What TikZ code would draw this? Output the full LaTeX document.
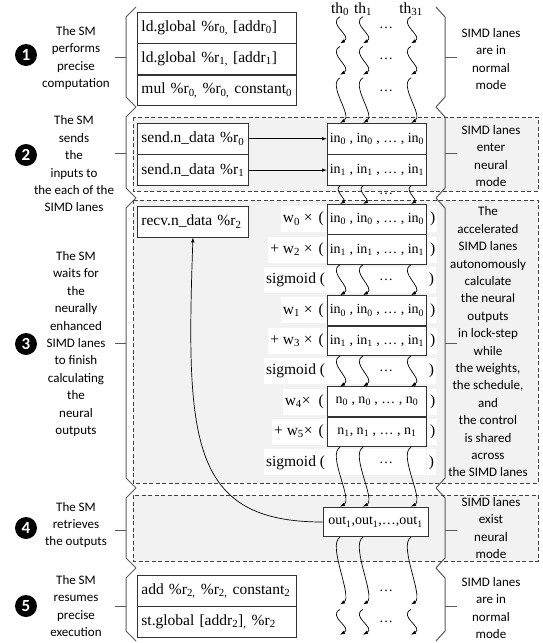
\documentclass[tikz,border=0pt]{standalone}
\usepackage{fontspec}
\setmainfont{Liberation Serif}
\newfontfamily\sidefont{Carlito}
\usepackage{tikz}
\usetikzlibrary{positioning}
\usetikzlibrary{arrows.meta}

\definecolor{neuralfill}{HTML}{F2F2F2}
\definecolor{braceline}{HTML}{5A5A5A}

\newcommand{\low}[1]{\textsubscript{#1}}

\tikzset{
  instr/.style={draw=black!80, line width=0.9pt, fill=white, anchor=north west,
    minimum height=30.5pt, inner xsep=4pt, align=left, text width=151pt,
    font=\fontsize{15.5}{18}\selectfont},
  sendbox/.style={instr, text width=103pt},
  lanebox/.style={draw=black!80, line width=0.9pt, fill=white, minimum width=99pt,
    minimum height=29.5pt, inner sep=0pt, font=\fontsize{14}{16}\selectfont},
  rowlbl/.style={fill=white, minimum height=26pt, inner xsep=2pt, inner ysep=0pt,
    font=\fontsize{15.5}{18}\selectfont},
  sigrow/.style={fill=white, minimum width=99pt, minimum height=26pt, inner sep=0pt},
  thread/.style={inner sep=0pt, font=\fontsize{15.5}{18}\selectfont},
  dots/.style={inner sep=0pt, font=\fontsize{14}{16}\selectfont},
  side/.style={align=center, inner sep=0pt, font=\sidefont\fontsize{13}{17.4}\selectfont},
  badge/.style={circle, fill=black, text=white, minimum size=22pt, inner sep=0pt,
    font=\sidefont\bfseries\fontsize{17}{17}\selectfont},
  brace/.style={draw=braceline, line width=1pt},
  neural/.style={draw=black!75, line width=0.8pt, dash pattern=on 4pt off 2.5pt},
  lane/.style={-{Latex[length=5pt,width=3.5pt]}, line width=0.7pt, out=-150, in=30, distance=15pt},
  arr/.style={-{Latex[length=5pt,width=3.5pt]}, line width=0.7pt},
}

\begin{document}
\begin{tikzpicture}[x=1pt, y=-1pt]
  \useasboundingbox (0,0) rectangle (542,643);

  % Neural mode regions
  \fill[neuralfill] (133,117) rectangle (538,191);
  \fill[neuralfill] (133,200) rectangle (538,483);
  \fill[neuralfill] (133,495) rectangle (538,561);

  % Braces
  \foreach \a/\b in {7/107, 107/198, 198/488, 488/568, 568/641} {
    \draw[brace] (136,\a) -- (126,\a+10) -- (126,\b-10) -- (136,\b);
    \draw[brace] (436,\a) -- (445,\a+10) -- (445,\b-10) -- (436,\b);
  }

  % Define nodes
  \node[instr] (ld0) at (137,12) {ld.global \%r\low{0,} [addr\low{0}]};
  \node[instr, below=0pt of ld0] (ld1) {ld.global \%r\low{1,} [addr\low{1}]};
  \node[instr, below=0pt of ld1] (mul) {mul \%r\low{0,} \%r\low{0,} constant\low{0}};

  \node[sendbox] (snd0) at (137,123) {send.n\_data \%r\low{0}};
  \node[sendbox, below=0pt of snd0] (snd1) {send.n\_data \%r\low{1}};
  \node[lanebox, minimum height=30.5pt, anchor=north west] (in0) at (327,123) {in\low{0} , in\low{0} , … , in\low{0}};
  \node[lanebox, minimum height=30.5pt, below=0pt of in0] (in1) {in\low{1} , in\low{1} , … , in\low{1}};

  \node[sendbox] (recv) at (137,206) {recv.n\_data \%r\low{2}};
  \node[lanebox, anchor=north west] (wa0) at (327,204) {in\low{0} , in\low{0} , … , in\low{0}};
  \node[lanebox, below=0pt of wa0] (wa1) {in\low{1} , in\low{1} , … , in\low{1}};
  \node[sigrow, below=2pt of wa1] (sig1) {};
  \node[lanebox, below=2pt of sig1] (wb0) {in\low{0} , in\low{0} , … , in\low{0}};
  \node[lanebox, below=0pt of wb0] (wb1) {in\low{1} , in\low{1} , … , in\low{1}};
  \node[sigrow, below=2pt of wb1] (sig2) {};
  \node[lanebox, below=2pt of sig2] (wc0) {n\low{0} ,\ n\low{0} , … ,\ n\low{0}};
  \node[lanebox, below=0pt of wc0] (wc1) {n\low{1},\ n\low{1} , … ,\ n\low{1}};
  \node[sigrow, below=2pt of wc1] (sig3) {};

  \node[rowlbl, left=1pt of wa0] {w\low{0} ×\hspace{6pt}(};
  \node[rowlbl, right=1pt of wa0] {)};
  \node[rowlbl, left=1pt of wa1] {+ w\low{2} ×\hspace{6pt}(};
  \node[rowlbl, right=1pt of wa1] {)};
  \node[rowlbl, left=0pt of sig1] {sigmoid (};
  \node[rowlbl, right=0pt of sig1] {)};
  \node[rowlbl, left=1pt of wb0] {w\low{1} ×\hspace{6pt}(};
  \node[rowlbl, right=1pt of wb0] {)};
  \node[rowlbl, left=1pt of wb1] {+ w\low{3} ×\hspace{6pt}(};
  \node[rowlbl, right=1pt of wb1] {)};
  \node[rowlbl, left=0pt of sig2] {sigmoid (};
  \node[rowlbl, right=0pt of sig2] {)};
  \node[rowlbl, left=1pt of wc0] {w\low{4}×\hspace{8pt}(};
  \node[rowlbl, right=1pt of wc0] {)};
  \node[rowlbl, left=1pt of wc1] {+ w\low{5}×\hspace{6pt}(};
  \node[rowlbl, right=1pt of wc1] {)};
  \node[rowlbl, left=0pt of sig3] {sigmoid (};
  \node[rowlbl, right=0pt of sig3] {)};

  \node[lanebox, minimum width=105pt] (out) at (375.5,522) {out\low{1},out\low{1},…,out\low{1}};

  \node[instr] (add) at (137,575) {add \%r\low{2,} \%r\low{2,} constant\low{2}};
  \node[instr, below=0pt of add] (st) {st.global [addr\low{2}]\low{,} \%r\low{2}};

  \node[thread] (t0) at (340,9) {th\low{0}};
  \node[thread] (t1) at (363,9) {th\low{1}};
  \node[thread] (t31) at (411,9) {th\low{31}};
  \coordinate (d) at (386,0);

  % Side notes
  \node[badge] (n1) at (26,55) {1};
  \node[badge] (n2) at (26,155) {2};
  \node[badge] (n3) at (26,344) {3};
  \node[badge] (n4) at (26,528) {4};
  \node[badge] (n5) at (26,606) {5};
  \node[side] (s1) at (76,58) {The SM\\performs\\precise\\computation};
  \node[side] (s2) at (74,164) {The SM\\sends\\the\\inputs to\\the each of the\\SIMD lanes};
  \node[side] (s3) at (76,344) {The SM\\waits for\\the\\neurally\\enhanced\\SIMD lanes\\to finish\\calculating\\the\\neural\\outputs};
  \node[side] (s4) at (76,525) {The SM\\retrieves\\the outputs};
  \node[side] (s5) at (76,606) {The SM\\resumes\\precise\\execution};
  \node[side] (m1) at (491,59) {SIMD lanes\\are in\\normal\\mode};
  \node[side] (m2) at (491,156) {SIMD lanes\\enter\\neural\\mode};
  \node[side, fill=neuralfill, inner xsep=1pt] (m3) at (488,342) {The\\accelerated\\SIMD lanes\\autonomously\\calculate\\the neural\\outputs\\in lock-step\\while\\the weights,\\the schedule,\\and\\the control\\is shared\\across\\the SIMD lanes};
  \node[side] (m4) at (491,528) {SIMD lanes\\exist\\neural\\mode};
  \node[side] (m5) at (491,608) {SIMD lanes\\are in\\normal\\mode};

  \foreach \m in {57,153,343,530,606} {
    \draw[brace] (115,\m) -- (126,\m);
    \draw[brace] (445,\m) -- (457,\m);
  }

  \draw[neural] (133,117) rectangle (538,191);
  \draw[neural] (133,200) rectangle (538,483);
  \draw[neural] (133,495) rectangle (538,561);

  % Connect the nodes
  \foreach \t in {t0,t1,t31} {
    \draw[lane] ([yshift=-1pt]\t.south) to (ld0.south -| \t);
    \draw[lane] ([yshift=-3pt]ld0.south -| \t) to (ld1.south -| \t);
    \draw[lane] ([yshift=-3pt]ld1.south -| \t) to (in0.north -| \t);
    \draw[lane, distance=8pt] (in1.south -| \t) to (wa0.north -| \t);
    \draw[lane] (wa1.south -| \t) to (wb0.north -| \t);
    \draw[lane] (wb1.south -| \t) to (wc0.north -| \t);
    \draw[lane] (wc1.south -| \t) to (out.north -| \t);
    \draw[lane] (out.south -| \t) to ([yshift=2pt]add.south -| \t);
    \draw[lane] ([yshift=-3pt]add.south -| \t) to ([yshift=3pt]st.south -| \t);
  }
  \foreach \r in {ld0, ld1, mul, sig1, sig2, sig3, add, st}
    \node[dots] at (d |- \r) {…};
  \node[dots] at (386,194) {…};

  \draw[arr] (snd0) -- (in0);
  \draw[arr] (snd1) -- (in1);
  \draw[arr] (out.west) .. controls +(-133,0) and +(-7,202) .. (recv.south);
\end{tikzpicture}
\end{document}
